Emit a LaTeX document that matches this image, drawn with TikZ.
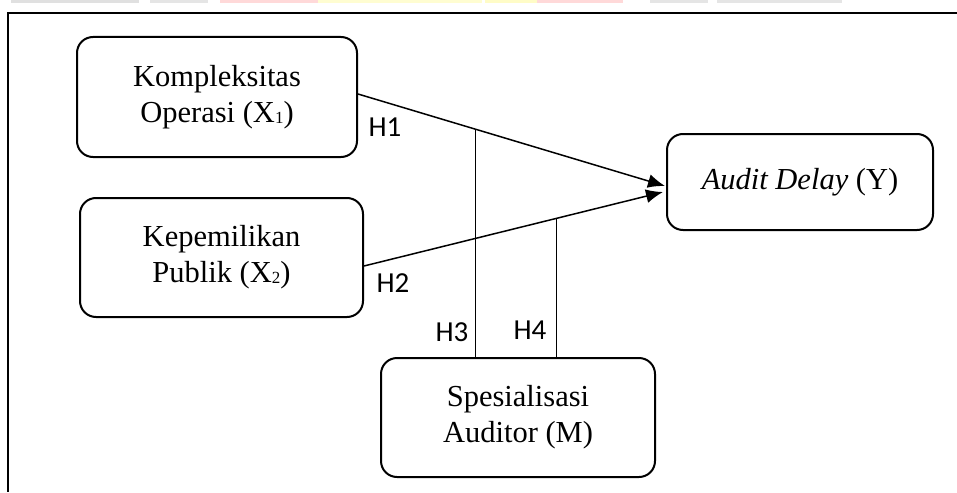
\documentclass[tikz,border=0pt]{standalone}
\usepackage{fontspec}
\setmainfont{Liberation Serif}
\newfontfamily\hlabfont{Carlito}
\usetikzlibrary{arrows.meta}
\tikzset{
  varbox/.style={draw, line width=2pt, rounded corners=16pt, align=center,
    font=\fontsize{30.5}{36}\selectfont, inner sep=0pt},
  conn/.style={line width=1.5pt},
  arr/.style={conn, -{Latex[length=17pt,width=14pt]}},
  hlab/.style={font=\hlabfont\fontsize{29}{29}\selectfont, inner sep=0pt},
}
\newcommand{\smallsub}[1]{\raisebox{-1pt}{\fontsize{17}{17}\selectfont #1}}
\begin{document}
\begin{tikzpicture}[x=1pt,y=-1pt]
\useasboundingbox (0,0) rectangle (957,492);
% faint watermark strip at top
\fill[black!12] (11,0) rectangle (139,3);
\fill[black!10] (150,0) rectangle (208,3);
\fill[red!15] (220,0) rectangle (318,3);
\fill[yellow!18] (318,0) rectangle (482,3);
\fill[yellow!22] (485,0) rectangle (537,3);
\fill[red!15] (537,0) rectangle (623,3);
\fill[black!10] (650,0) rectangle (708,3);
\fill[black!10] (717,0) rectangle (842,3);
% outer frame
\draw[line width=1.6pt] (957,13) -- (8,13) -- (8,492);
% boxes
\node[varbox, minimum width=280pt, minimum height=120pt] (b1) at (217,97)
  {Kompleksitas\\Operasi (X\smallsub{1})};
\node[varbox, minimum width=283pt, minimum height=119pt] (b2) at (221.5,257.5)
  {Kepemilikan\\Publik (X\smallsub{2})};
\node[varbox, minimum width=266pt, minimum height=96pt] (y) at (800,182)
  {\textit{Audit Delay} (Y)};
\node[varbox, minimum width=274pt, minimum height=119pt] (m) at (518,417.5)
  {Spesialisasi\\Auditor (M)};
% arrows
\draw[arr] ([yshift=3pt]b1.east) -- coordinate[pos=0.383] (h3top) ([yshift=-4pt,xshift=-1pt]y.west);
\draw[arr] ([yshift=-8.5pt]b2.east) -- coordinate[pos=0.643] (h4top) ([yshift=-10pt,xshift=-3pt]y.west);
% moderation lines
\draw[conn] (h3top) -- (h3top |- m.north);
\draw[conn] (h4top) -- (h4top |- m.north);
% labels
\node[hlab] (lh1) at (385,127) {H1};
\node[hlab] (lh2) at (393,283) {H2};
\node[hlab] (lh3) at (452,332) {H3};
\node[hlab] (lh4) at (530,330) {H4};
\end{tikzpicture}
\end{document}
